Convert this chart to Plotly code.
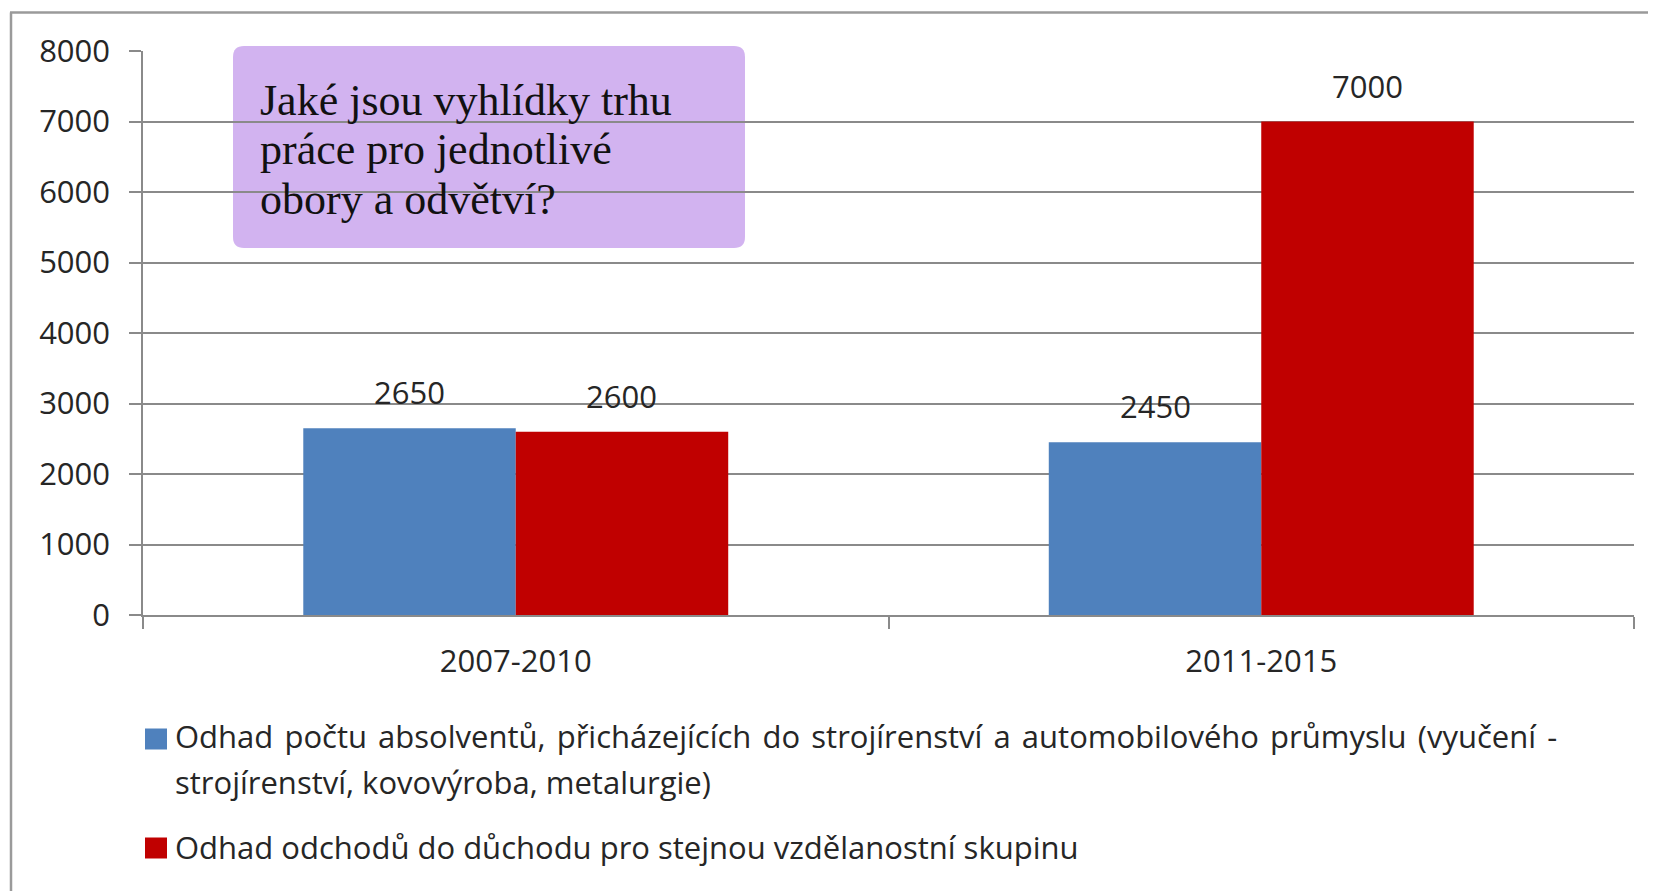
import plotly.graph_objects as go

# ---- data ----
categories = ["2007-2010", "2011-2015"]
absolventi = [2650, 2450]
duchody = [2600, 7000]
series_names = [
    "Odhad počtu absolventů, přicházejících do strojírenství a automobilového průmyslu (vyučení - strojírenství, kovovýroba, metalurgie)",
    "Odhad odchodů do důchodu pro stejnou vzdělanostní skupinu",
]
legend_lines_1 = [
    "Odhad počtu absolventů, přicházejících do strojírenství a automobilového průmyslu (vyučení -",
    "strojírenství, kovovýroba, metalurgie)",
]
legend_lines_2 = ["Odhad odchodů do důchodu pro stejnou vzdělanostní skupinu"]
box_lines = ["Jaké jsou vyhlídky trhu", "práce pro jednotlivé", "obory a odvětví?"]
y_ticks = [0, 1000, 2000, 3000, 4000, 5000, 6000, 7000, 8000]

# ---- style / layout (page coordinates; the page body adds an 8px offset) ----
OFF = 8
PAGE_W, PAGE_H = 1656, 891
W, H = PAGE_W - OFF, PAGE_H - OFF
# plot area in page px: left 143, right 1634, top 51, bottom 615
ML = 143 - OFF
MT = 51 - OFF
MR = PAGE_W - 1634
MB = PAGE_H - 615
PW = W - ML - MR
PH = H - MT - MB
BLUE = "#4F81BD"
RED = "#C00000"
GRID = "#8a8a8a"
TXT = "#262626"
FONT = "Open Sans"
BARGAP = 0.43
HAIR = "\u200a"  # extra word spacing for the justified first legend line


def px(x):
    """page x pixel -> paper fraction"""
    return (x - OFF - ML) / PW


def py(y):
    """page y pixel -> paper fraction"""
    return (H - MB - (y - OFF)) / PH


fig = go.Figure()
fig.add_trace(go.Bar(x=categories, y=absolventi, name=series_names[0], marker_color=BLUE,
                     marker_line_width=0))
fig.add_trace(go.Bar(x=categories, y=duchody, name=series_names[1], marker_color=RED,
                     marker_line_width=0))

# value labels above bars
cat_w = PW / len(categories)
bar_w = cat_w * (1 - BARGAP) / 2
annotations = []
for vals, sign in ((absolventi, -1), (duchody, 1)):
    for c, v in zip(categories, vals):
        annotations.append(dict(x=c, y=v, xref="x", yref="y", text=str(v), showarrow=False,
                                xshift=sign * bar_w / 2, yshift=36, yanchor="middle",
                                font=dict(family=FONT, size=31, color=TXT)))

# question box text
for i, line in enumerate(box_lines):
    annotations.append(dict(x=px(258), y=py(100 + i * 49.5), xref="paper", yref="paper",
                            text=line, showarrow=False, xanchor="left", yanchor="middle",
                            font=dict(family="Liberation Serif", size=44, color="#111")))

# legend text
leg_x = px(173)
for i, line in enumerate(legend_lines_1):
    shown = line.replace(" ", " " + HAIR) if i == 0 else line
    annotations.append(dict(x=leg_x, y=py(736 + i * 45.5), xref="paper", yref="paper",
                            text=shown, showarrow=False, xanchor="left", yanchor="middle",
                            font=dict(family=FONT, size=31, color=TXT)))
for line in legend_lines_2:
    annotations.append(dict(x=leg_x, y=py(847), xref="paper", yref="paper",
                            text=line, showarrow=False, xanchor="left", yanchor="middle",
                            font=dict(family=FONT, size=31, color=TXT)))

shapes = []
# rounded question box
x0, x1, y0, y1, r = 233, 745, 46, 248, 11
path = (f"M {px(x0 + r)} {py(y0)} L {px(x1 - r)} {py(y0)} Q {px(x1)} {py(y0)} {px(x1)} {py(y0 + r)} "
        f"L {px(x1)} {py(y1 - r)} Q {px(x1)} {py(y1)} {px(x1 - r)} {py(y1)} "
        f"L {px(x0 + r)} {py(y1)} Q {px(x0)} {py(y1)} {px(x0)} {py(y1 - r)} "
        f"L {px(x0)} {py(y0 + r)} Q {px(x0)} {py(y0)} {px(x0 + r)} {py(y0)} Z")
shapes.append(dict(type="path", path=path, xref="paper", yref="paper",
                   fillcolor="rgba(193,150,234,0.72)", line=dict(width=0), layer="below"))
# legend squares
for (yc, col) in ((739, BLUE), (848, RED)):
    shapes.append(dict(type="rect", xref="paper", yref="paper",
                       x0=px(145), x1=px(167), y0=py(yc - 10.5), y1=py(yc + 10.5),
                       fillcolor=col, line=dict(width=0)))
# outer frame (left and top edges of slide box)
shapes.append(dict(type="line", xref="paper", yref="paper", x0=px(11), x1=px(11),
                   y0=py(12.5), y1=py(PAGE_H + 5), line=dict(color="#9a9a9a", width=2.5)))
shapes.append(dict(type="line", xref="paper", yref="paper", x0=px(10), x1=px(PAGE_W + 5),
                   y0=py(12.5), y1=py(12.5), line=dict(color="#9a9a9a", width=2.5)))

fig.update_layout(
    width=W, height=H,
    margin=dict(l=ML, r=MR, t=MT, b=MB, autoexpand=False),
    paper_bgcolor="white", plot_bgcolor="rgba(0,0,0,0)",
    barmode="group", bargap=BARGAP, bargroupgap=0,
    showlegend=False,
    annotations=annotations, shapes=shapes,
    font=dict(family=FONT, size=31, color=TXT),
)
fig.update_xaxes(
    type="category", showline=True, linecolor=GRID, linewidth=1.5,
    ticks="outside", tickson="boundaries", ticklen=12, tickcolor=GRID, tickwidth=1.5,
    tickfont=dict(family=FONT, size=31, color=TXT), ticklabelstandoff=18,
    showgrid=False,
)
fig.update_yaxes(
    range=[0, 8000], tickvals=y_ticks, showline=True, linecolor=GRID, linewidth=1.5,
    ticks="outside", ticklen=12, tickcolor=GRID, tickwidth=1.5,
    showgrid=True, gridcolor=GRID, gridwidth=1.5, zeroline=False,
    tickfont=dict(family=FONT, size=31, color=TXT), ticklabelstandoff=13,
)

fig.write_html("out.html")
